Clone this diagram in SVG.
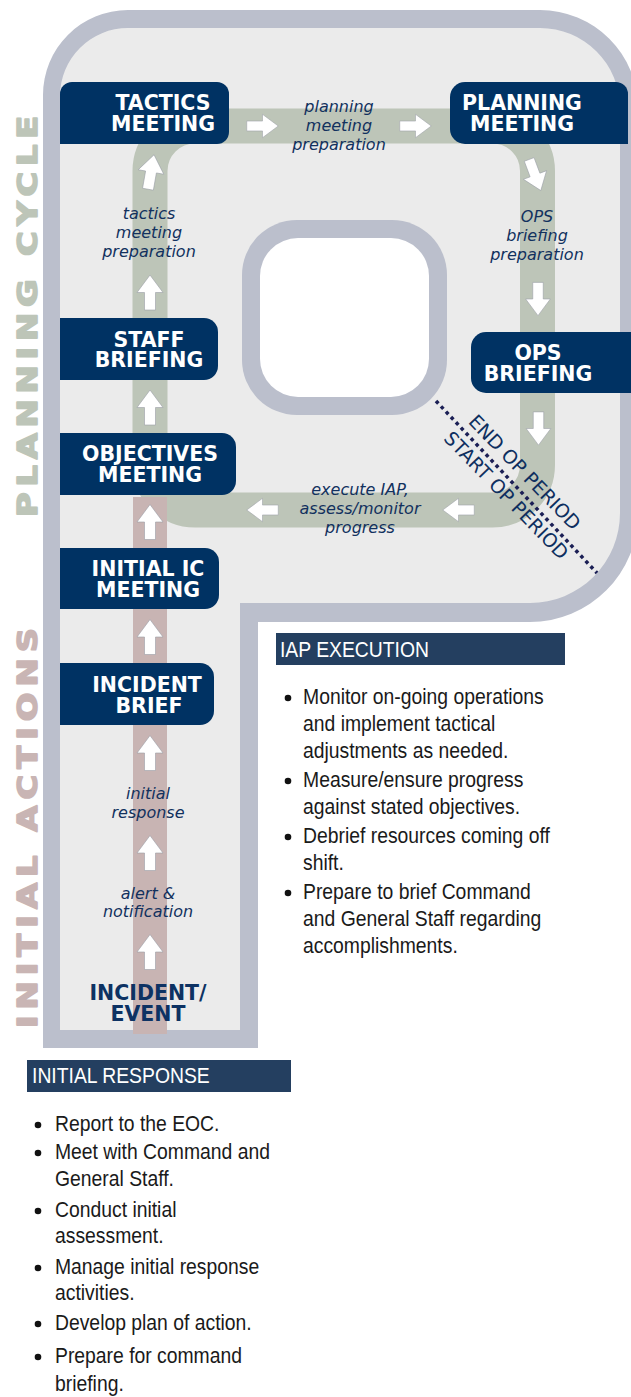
<svg xmlns="http://www.w3.org/2000/svg" xmlns:xlink="http://www.w3.org/1999/xlink" width="631" height="1397" viewBox="0 0 631 1397">
<style>
.box{fill:#003263}
.bt{font-family:"DejaVu Sans",sans-serif;font-weight:bold;font-size:20.5px;fill:#fff;text-anchor:middle}
.nt{font-family:"DejaVu Sans",sans-serif;font-weight:bold;font-size:20.5px;fill:#0D3263;text-anchor:middle}
.lbl{font-family:"DejaVu Sans",sans-serif;font-style:italic;font-size:16px;fill:#12315E;text-anchor:middle}
.arr{fill:#fff;stroke:#9a9ea6;stroke-width:0.6}
.hdr{fill:#243F60}
.ht{font-family:"Liberation Sans",Arial,sans-serif;font-size:21.5px;fill:#fff}
.bl{font-family:"Liberation Sans",Arial,sans-serif;font-size:21.5px;fill:#1a1a1a}
.dot{fill:#111}
.vt{font-family:"DejaVu Sans",sans-serif;font-weight:bold;font-size:27px;stroke-width:1.6;stroke-linejoin:round}
.per{font-family:"DejaVu Sans",sans-serif;font-size:19px;fill:#0E2F5F;text-anchor:middle}
</style>
<defs>
<path id="arr" class="arr" d="M0,-17.5 L13,0 L5.5,0 L5.5,17.5 L-5.5,17.5 L-5.5,0 L-13,0 Z"/>
</defs>
<rect width="631" height="1397" fill="#fff"/>
<g id="frame">
<path fill="#BBBFCC" d="M43,1048 L258,1048 L258,622 L530,622 A108,108 0 0 0 638,514 L638,108 A98,98 0 0 0 540,10 L128,10 A85,85 0 0 0 43,95 Z"/>
<path fill="#EBEBEB" d="M60,1030 L240,1030 L240,603 L530,603 A90,90 0 0 0 620,513 L620,108 A80,80 0 0 0 540,28 L128,28 A68,68 0 0 0 60,96 Z"/>
<rect x="242" y="220" width="205" height="195" rx="55" fill="#BBBFCC"/>
<rect x="260" y="238" width="169" height="159" rx="38" fill="#fff"/>
<text class="vt" fill="#BDC5B8" stroke="#BDC5B8" transform="translate(37,517) rotate(-90) scale(1.25,1)" textLength="321" lengthAdjust="spacing">PLANNING CYCLE</text>
<text class="vt" fill="#C9B5B4" stroke="#C9B5B4" transform="translate(37,1028) rotate(-90) scale(1.25,1)" textLength="320" lengthAdjust="spacing">INITIAL ACTIONS</text>
</g>
<g id="connectors">
<rect x="150" y="126" width="387.5" height="384" rx="45" fill="none" stroke="#BDC5B8" stroke-width="35"/>
<rect x="133" y="497" width="34" height="537" fill="#C8B4B3"/>
<use xlink:href="#arr" transform="translate(151,172) rotate(10)"/>
<use xlink:href="#arr" transform="translate(150,292.5)"/>
<use xlink:href="#arr" transform="translate(150,407.5)"/>
<use xlink:href="#arr" transform="translate(150,522)"/>
<use xlink:href="#arr" transform="translate(150,637)"/>
<use xlink:href="#arr" transform="translate(150,753)"/>
<use xlink:href="#arr" transform="translate(150,853)"/>
<use xlink:href="#arr" transform="translate(150,952)"/>
<use xlink:href="#arr" transform="translate(262.5,126) rotate(90) scale(0.9)"/>
<use xlink:href="#arr" transform="translate(415.5,126) rotate(90) scale(0.9)"/>
<use xlink:href="#arr" transform="translate(535,175) rotate(159.5) scale(0.95)"/>
<use xlink:href="#arr" transform="translate(538,299) rotate(180) scale(0.95)"/>
<use xlink:href="#arr" transform="translate(538.5,428.5) rotate(180) scale(0.95)"/>
<use xlink:href="#arr" transform="translate(458.5,510) rotate(-90) scale(0.9)"/>
<use xlink:href="#arr" transform="translate(262.5,510) rotate(-90) scale(0.9)"/>
<line x1="436" y1="401" x2="597" y2="573" stroke="#1B1F55" stroke-width="3.5" stroke-dasharray="3.5 3.8"/>
</g>
<g id="labels">
<text class="lbl" x="339" y="112">planning</text>
<text class="lbl" x="339" y="131">meeting</text>
<text class="lbl" x="339" y="150">preparation</text>
<text class="lbl" x="149" y="219">tactics</text>
<text class="lbl" x="149" y="238">meeting</text>
<text class="lbl" x="149" y="257">preparation</text>
<text class="lbl" x="537" y="222">OPS</text>
<text class="lbl" x="537" y="241">briefing</text>
<text class="lbl" x="537" y="260">preparation</text>
<text class="lbl" x="360" y="495">execute IAP,</text>
<text class="lbl" x="360" y="514">assess/monitor</text>
<text class="lbl" x="360" y="533">progress</text>
<text class="lbl" x="148" y="799">initial</text>
<text class="lbl" x="148" y="818">response</text>
<text class="lbl" x="148" y="899">alert &amp;</text>
<text class="lbl" x="148" y="917">notification</text>
<text class="per" transform="translate(520,477) rotate(46)">END OP PERIOD</text>
<text class="per" transform="translate(501.5,500) rotate(46)">START OP PERIOD</text>
</g>
<g id="tactics-meeting">
<path class="box" d="M72,82 L217,82 A12,12 0 0 1 229,94 L229,132 A12,12 0 0 1 217,144 L60,144 L60,94 A12,12 0 0 1 72,82 Z"/>
<text class="bt" x="163" y="110">TACTICS</text>
<text class="bt" x="163" y="131">MEETING</text>
</g>
<g id="planning-meeting">
<path class="box" d="M465,82 L616,82 A12,12 0 0 1 628,94 L628,144 L465,144 A15,15 0 0 1 450,129 L450,97 A15,15 0 0 1 465,82 Z"/>
<text class="bt" x="522" y="110">PLANNING</text>
<text class="bt" x="522" y="131">MEETING</text>
</g>
<g id="ops-briefing">
<path class="box" d="M486,332 L631,332 L631,393 L486,393 A15,15 0 0 1 471,378 L471,347 A15,15 0 0 1 486,332 Z"/>
<text class="bt" x="538" y="360">OPS</text>
<text class="bt" x="538" y="381">BRIEFING</text>
</g>
<g id="staff-briefing">
<path class="box" d="M60,318 L204,318 A14,14 0 0 1 218,332 L218,366 A14,14 0 0 1 204,380 L60,380 Z"/>
<text class="bt" x="149" y="347">STAFF</text>
<text class="bt" x="149" y="367">BRIEFING</text>
</g>
<g id="objectives-meeting">
<path class="box" d="M60,433 L222,433 A14,14 0 0 1 236,447 L236,481 A14,14 0 0 1 222,495 L60,495 Z"/>
<text class="bt" x="150" y="461">OBJECTIVES</text>
<text class="bt" x="150" y="482">MEETING</text>
</g>
<g id="initial-ic-meeting">
<path class="box" d="M60,548 L205,548 A14,14 0 0 1 219,562 L219,595 A14,14 0 0 1 205,609 L60,609 Z"/>
<text class="bt" x="148" y="576">INITIAL IC</text>
<text class="bt" x="148" y="597">MEETING</text>
</g>
<g id="incident-brief">
<path class="box" d="M60,663 L200,663 A14,14 0 0 1 214,677 L214,711 A14,14 0 0 1 200,725 L60,725 Z"/>
<text class="bt" x="147" y="692">INCIDENT</text>
<text class="bt" x="149" y="713">BRIEF</text>
</g>
<g id="incident-event">
<text class="nt" x="148" y="1000">INCIDENT/</text>
<text class="nt" x="148" y="1021">EVENT</text>
</g>
<g id="iap-execution">
<rect class="hdr" x="276" y="633" width="289" height="32"/>
<circle class="dot" cx="288" cy="698" r="3.3"/>
<circle class="dot" cx="288" cy="781" r="3.3"/>
<circle class="dot" cx="288" cy="837" r="3.3"/>
<circle class="dot" cx="288" cy="893" r="3.3"/>
<g transform="scale(0.9,1)">
<text class="ht" x="311.1" y="657">IAP EXECUTION</text>
<text class="bl" x="336.7" y="704">Monitor on-going operations</text>
<text class="bl" x="336.7" y="731">and implement tactical</text>
<text class="bl" x="336.7" y="758">adjustments as needed.</text>
<text class="bl" x="336.7" y="787">Measure/ensure progress</text>
<text class="bl" x="336.7" y="814">against stated objectives.</text>
<text class="bl" x="336.7" y="843">Debrief resources coming off</text>
<text class="bl" x="336.7" y="870">shift.</text>
<text class="bl" x="336.7" y="899">Prepare to brief Command</text>
<text class="bl" x="336.7" y="926">and General Staff regarding</text>
<text class="bl" x="336.7" y="953">accomplishments.</text>
</g>
</g>
<g id="initial-response">
<rect class="hdr" x="27" y="1060" width="264" height="32"/>
<circle class="dot" cx="38" cy="1125" r="3.3"/>
<circle class="dot" cx="38" cy="1153" r="3.3"/>
<circle class="dot" cx="38" cy="1211" r="3.3"/>
<circle class="dot" cx="38" cy="1268" r="3.3"/>
<circle class="dot" cx="38" cy="1324" r="3.3"/>
<circle class="dot" cx="38" cy="1357" r="3.3"/>
<g transform="scale(0.9,1)">
<text class="ht" x="35.6" y="1083">INITIAL RESPONSE</text>
<text class="bl" x="61.1" y="1131">Report to the EOC.</text>
<text class="bl" x="61.1" y="1159">Meet with Command and</text>
<text class="bl" x="61.1" y="1186">General Staff.</text>
<text class="bl" x="61.1" y="1217">Conduct initial</text>
<text class="bl" x="61.1" y="1243">assessment.</text>
<text class="bl" x="61.1" y="1274">Manage initial response</text>
<text class="bl" x="61.1" y="1300">activities.</text>
<text class="bl" x="61.1" y="1330">Develop plan of action.</text>
<text class="bl" x="61.1" y="1363">Prepare for command</text>
<text class="bl" x="61.1" y="1391">briefing.</text>
</g>
</g>
</svg>
